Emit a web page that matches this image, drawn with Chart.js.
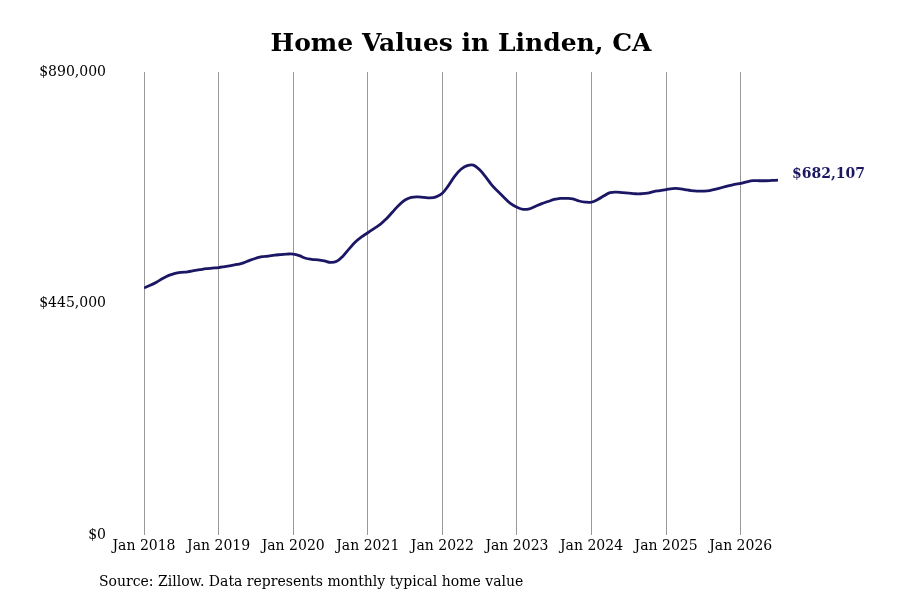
<!DOCTYPE html>
<html>
<head>
<meta charset="utf-8">
<script src="https://cdn.jsdelivr.net/npm/chart.js@4"></script>
<style>
  html, body { margin: 0; padding: 0; background: #fff; }
  #wrap { width: 900px; height: 600px; }
</style>
</head>
<body>
<div id="wrap"><canvas id="myChart" width="900" height="600"></canvas></div>
<script>
// monthly typical home value, Jan of each year onward
const v2018 = [475000, 480000, 486000, 493000, 499000, 503000, 505000, 506000, 508000, 510000, 512000, 513000]
const v2019 = [514000, 516000, 518000, 520000, 523000, 528000, 532000, 535000, 536000, 538000, 539000, 540000]
const v2020 = [540000, 537000, 532000, 530000, 529000, 527000, 524000, 526000, 536000, 550000, 563000, 573000]
const v2021 = [581000, 589000, 597000, 608000, 621000, 634000, 644000, 649000, 650000, 649000, 648000, 650000]
const v2022 = [657000, 672000, 690000, 703000, 710000, 711000, 702000, 688000, 672000, 660000, 648000, 637000]
const v2023 = [630000, 626000, 627000, 632000, 637000, 641000, 645000, 647000, 647000, 646000, 642000, 640000]
const v2024 = [640000, 645000, 652000, 658000, 659000, 658000, 657000, 656000, 656000, 657000, 660000, 662000]
const v2025 = [664000, 666000, 666000, 664000, 662000, 661000, 661000, 662000, 665000, 668000, 671000, 674000]
const v2026 = [676000, 679000, 681000, 681000, 681000, 681500, 682107]

const tickLabels = ["Jan 2018", "Jan 2019", "Jan 2020", "Jan 2021", "Jan 2022", "Jan 2023", "Jan 2024", "Jan 2025", "Jan 2026"]
const yTicks = [0, 445000, 890000]

const values = [].concat(v2018, v2019, v2020, v2021, v2022, v2023, v2024, v2025, v2026)
const points = values.map((v, i) => ({ x: i, y: v }))

const font = "'DejaVu Serif', 'Liberation Serif', serif"
const navy = "#1b1764"

const extras = {
    id: "extras",
    afterDraw(chart) {
        const c = chart.ctx
        c.save()
        c.fillStyle = "#000"
        c.textAlign = "center"
        c.textBaseline = "middle"
        c.font = "bold 25px " + font
        c.fillText("Home Values in Linden, CA", 461, 44)

        c.textAlign = "left"
        c.font = "14px " + font
        c.fillText("Source: Zillow. Data represents monthly typical home value", 99, 582)

        const meta = chart.getDatasetMeta(0)
        const last = meta.data[meta.data.length - 1]
        c.fillStyle = navy
        c.font = "bold 14px " + font
        c.fillText("$" + values[values.length - 1].toLocaleString("en-US"), last.x + 14, last.y - 6)
        c.restore()
    }
}

const ctx = document.querySelector("#myChart")

new Chart(ctx, {
    type: "line",
    data: {
        datasets: [{
            data: points,
            borderColor: navy,
            borderWidth: 2.8,
            pointRadius: 0,
            tension: 0.4,
            fill: false
        }]
    },
    options: {
        responsive: false,
        animation: false,
        layout: { padding: { left: 0, right: 122, top: 72, bottom: 0 } },
        plugins: { legend: { display: false }, tooltip: { enabled: false } },
        scales: {
            x: {
                type: "linear",
                min: 0,
                max: values.length - 1,
                afterBuildTicks: (axis) => { axis.ticks = tickLabels.map((t, i) => ({ value: i * 12 })) },
                afterFit: (axis) => { axis.height = 65 },
                ticks: {
                    callback: (v) => tickLabels[v / 12],
                    color: "#000",
                    font: { family: font, size: 14 },
                    padding: 3,
                    maxRotation: 0,
                    autoSkip: false
                },
                grid: { color: "#999", lineWidth: 1, drawTicks: false },
                border: { display: false }
            },
            y: {
                min: 0,
                max: 890000,
                afterBuildTicks: (axis) => { axis.ticks = yTicks.map((v) => ({ value: v })) },
                afterFit: (axis) => { axis.width = 144 },
                ticks: {
                    callback: (v) => "$" + v.toLocaleString("en-US"),
                    color: "#000",
                    font: { family: font, size: 14 },
                    padding: 38
                },
                grid: { display: false, drawTicks: false },
                border: { display: false }
            }
        }
    },
    plugins: [extras]
})
</script>
</body>
</html>
